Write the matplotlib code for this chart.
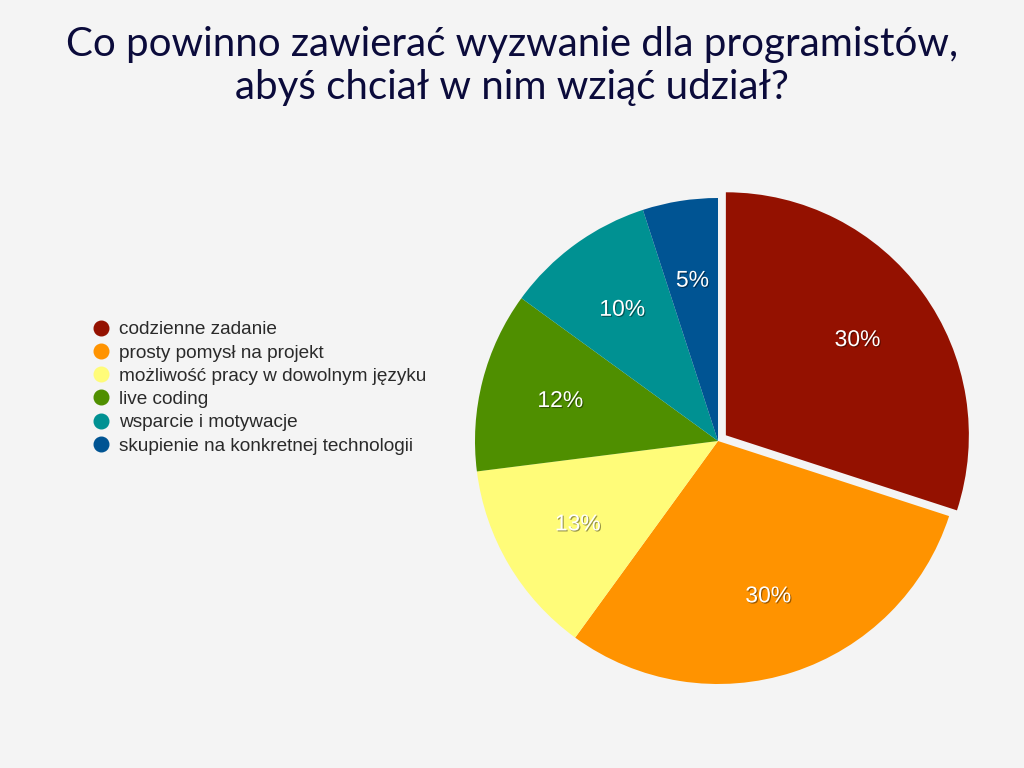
import matplotlib.pyplot as plt
from matplotlib.lines import Line2D
import matplotlib.patheffects as pe

labels = ["codzienne zadanie", "prosty pomysł na projekt",
          "możliwość pracy w dowolnym języku", "live coding",
          "wsparcie i motywacje", "skupienie na konkretnej technologii"]
values = [30, 30, 13, 12, 10, 5]
colors = ["#941100", "#ff9300", "#fffc79", "#4f8f00", "#009192", "#005493"]
explode = [0.04, 0, 0, 0, 0, 0]

bg = "#f4f4f4"
fig = plt.figure(figsize=(10.24, 7.68), dpi=100, facecolor=bg)

fig.text(0.5, 1 - 66 / 768, "Co powinno zawierać wyzwanie dla programistów,\nabyś chciał w nim wziąć udział?",
         ha="center", va="center", fontsize=29, color="#0b0b3b", family="Lato",
         linespacing=1.18)

ax = fig.add_axes([475 / 1024, 84 / 768, 486 / 1024, 486 / 768])
ax.set_facecolor(bg)
wedges, texts, autotexts = ax.pie(values, colors=colors, explode=explode, startangle=90,
                                  counterclock=False, autopct=lambda p: f"{p:.0f}%",
                                  pctdistance=0.67, radius=1.0,
                                  textprops=dict(color="white", fontsize=16.5, family="Liberation Sans"))
for w in wedges:
    w.set_clip_on(False)
for t in autotexts:
    t.set_path_effects([pe.withSimplePatchShadow(offset=(0.8, -0.8), shadow_rgbFace="black", alpha=0.4)])
ax.set_xlim(-1, 1)
ax.set_ylim(-1, 1)
ax.set_aspect("equal")
ax.axis("off")

handles = [Line2D([0], [0], marker="o", linestyle="", markersize=10.5,
                  markerfacecolor=c, markeredgecolor=c) for c in colors]
fig.legend(handles, labels, loc="upper left", bbox_to_anchor=(75 / 1024, 1 - 304 / 768),
           frameon=False, handletextpad=0.5, labelspacing=0.31,
           handlelength=0.9, prop=dict(family="Liberation Sans", size=13.7),
           labelcolor="#2a2a2a")

fig.savefig("out.png", dpi=100, facecolor=bg)
